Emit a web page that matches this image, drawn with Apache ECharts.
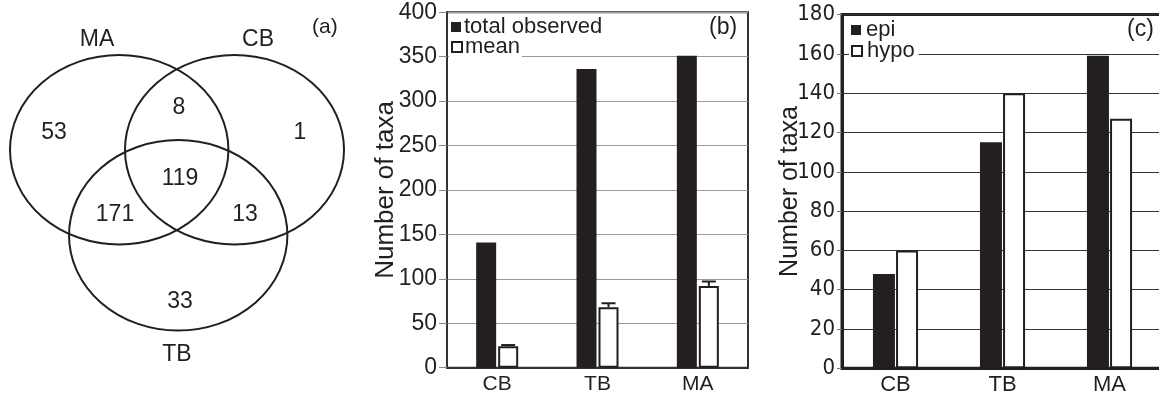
<!DOCTYPE html>
<html>
<head>
<meta charset="utf-8">
<script src="https://cdn.jsdelivr.net/npm/echarts@6/dist/echarts.min.js"></script>
<style>
html,body{margin:0;padding:0;background:#fff;}
#chart{width:1159px;height:395px;}
</style>
</head>
<body>
<div id="chart"></div>
<script>
// ---------------- DATA ----------------
// (a) Venn diagram
const vennSets = ['MA', 'CB', 'TB'];
const vennRegionNames = ['MA only', 'MA∩CB', 'CB only', 'MA∩TB', 'MA∩CB∩TB', 'CB∩TB', 'TB only'];
const vennCounts = [53, 8, 1, 171, 119, 13, 33];
// (b) total observed vs mean
const categories = ['CB', 'TB', 'MA'];
const totalObserved = [141, 336, 351];
const meanTaxa = [24, 68, 92];
const meanError = [1.5, 4.5, 5];
const yTicksB = [0, 50, 100, 150, 200, 250, 300, 350, 400];
// (c) epi vs hypo
const epiTaxa = [48, 115, 159];
const hypoTaxa = [60, 140, 127];
const yTicksC = [0, 20, 40, 60, 80, 100, 120, 140, 160, 180];

// ---------------- LAYOUT (not data) ----------------
const INK = '#231f20';
const FONT = "'Liberation Sans', Arial, Helvetica, sans-serif";
const NARROW = "'Liberation Sans Narrow', 'Arial Narrow', 'DejaVu Sans Condensed', sans-serif";
// ellipse geometry of the Venn panel, in panel pixel units [cx, cy, rx, ry]
const vennEllipseLayout = [[119.2, 149.7, 109.2, 94.7], [234.5, 149.7, 109.5, 94.7], [178.2, 235.3, 109.2, 95.3]];
const vennSetLabelPos = [[97, 40], [258, 40], [177, 355]];
const vennRegionPos = [[54, 133], [179, 108], [300, 133], [115, 215], [180, 179], [245, 215], [180, 302]];

const chart = echarts.init(document.getElementById('chart'), null, {renderer: 'canvas'});

const ellipseData = vennEllipseLayout.map((e, i) => ({name: vennSets[i], value: e}));
const vennTextData = vennSetLabelPos.map((p, i) => ({value: [p[0], p[1]], txt: vennSets[i]}))
  .concat(vennRegionPos.map((p, i) => ({value: [p[0], p[1]], txt: String(vennCounts[i]), name: vennRegionNames[i]})));

function ellipseItem(params, api) {
  const c = api.coord([api.value(0), api.value(1)]);
  const s = api.size([api.value(2), api.value(3)]);
  const rx = Math.abs(s[0]), ry = Math.abs(s[1]);
  const d = `M${c[0] - rx} ${c[1]} A${rx} ${ry} 0 1 0 ${c[0] + rx} ${c[1]} A${rx} ${ry} 0 1 0 ${c[0] - rx} ${c[1]} Z`;
  return {type: 'path', shape: {pathData: d}, style: {fill: 'none', stroke: INK, lineWidth: 2}};
}
function vennTextItem(params, api) {
  const c = api.coord([api.value(0), api.value(1)]);
  return {type: 'text', x: c[0], y: c[1], style: {
    text: vennTextData[params.dataIndex].txt, fill: INK, font: `23px ${FONT}`,
    align: 'center', verticalAlign: 'middle'}};
}
function errorItem(params, api) {
  const cat = api.value(0), m = api.value(1), e = api.value(2);
  const layout = api.barLayout({count: 2, barWidth: 20, barGap: '10%'});
  const base = api.coord([cat, m]);
  const top = api.coord([cat, m + e]);
  const x = base[0] + layout[1].offsetCenter;
  const hw = 7;
  return {type: 'group', children: [
    {type: 'line', shape: {x1: x, y1: base[1], x2: x, y2: top[1]}, style: {stroke: INK, lineWidth: 2}},
    {type: 'line', shape: {x1: x - hw, y1: top[1], x2: x + hw, y2: top[1]}, style: {stroke: INK, lineWidth: 2}}
  ]};
}

const option = {
  animation: false,
  backgroundColor: '#fff',
  textStyle: {fontFamily: FONT, color: INK},
  grid: [
    {left: 0, top: 0, width: 360, height: 395, outerBoundsMode: 'none'},
    {left: 447, top: 12.2, width: 301, height: 355.5, show: true, borderColor: '#333', borderWidth: 2, outerBoundsMode: 'none'},
    {left: 842, top: 14.6, width: 321, height: 353.7, show: true, borderColor: INK, borderWidth: 3, outerBoundsMode: 'none'}
  ],
  xAxis: [
    {gridIndex: 0, type: 'value', min: 0, max: 360, show: false},
    {gridIndex: 1, type: 'category', data: categories,
      axisLine: {lineStyle: {color: '#333', width: 2}}, axisTick: {show: false},
      axisLabel: {fontSize: 21, margin: 6, color: INK, fontFamily: FONT}},
    {gridIndex: 2, type: 'category', data: categories,
      axisLine: {lineStyle: {color: INK, width: 3}}, axisTick: {show: false},
      axisLabel: {fontSize: 22, margin: 6, color: INK, fontFamily: FONT}}
  ],
  yAxis: [
    {gridIndex: 0, type: 'value', min: 0, max: 395, inverse: true, show: false},
    {gridIndex: 1, type: 'value', min: yTicksB[0], max: yTicksB[yTicksB.length - 1], interval: yTicksB[1] - yTicksB[0],
      name: 'Number of taxa', nameLocation: 'middle', nameGap: 48, nameMoveOverlap: false,
      nameTextStyle: {fontSize: 26, color: INK, fontFamily: FONT},
      axisLine: {show: true, lineStyle: {color: '#333', width: 2}},
      axisTick: {show: true, length: 8, lineStyle: {color: '#888', width: 1}},
      axisLabel: {fontSize: 23, margin: 10, color: INK, fontFamily: FONT},
      splitLine: {show: true, lineStyle: {color: '#9a9a9a', width: 1}}},
    {gridIndex: 2, type: 'value', min: yTicksC[0], max: yTicksC[yTicksC.length - 1], interval: yTicksC[1] - yTicksC[0],
      name: 'Number of taxa', nameLocation: 'middle', nameGap: 39, nameMoveOverlap: false,
      nameTextStyle: {fontSize: 25, color: INK, fontFamily: FONT},
      axisLine: {show: true, lineStyle: {color: INK, width: 3}},
      axisTick: {show: true, length: 5, lineStyle: {color: '#777', width: 1}},
      axisLabel: {fontSize: 22, margin: 7, color: INK, fontFamily: NARROW},
      splitLine: {show: true, lineStyle: {color: '#333', width: 1}}}
  ],
  legend: [
    {data: ['total observed'], left: 449, top: 16, orient: 'vertical', padding: [0, 2, 0, 2],
      itemWidth: 10, itemHeight: 10, itemGap: 0, icon: 'rect', selectedMode: false,
      textStyle: {fontSize: 22, color: INK, fontFamily: FONT, padding: [0, 0, 0, -2]}},
    {data: ['mean'], left: 449, top: 36, orient: 'vertical', padding: [0, 2, 2, 2], backgroundColor: '#fff',
      itemWidth: 10, itemHeight: 10, itemGap: 0, icon: 'rect', selectedMode: false,
      textStyle: {fontSize: 22, color: INK, fontFamily: FONT, padding: [0, 0, 0, -2]}},
    {data: ['epi'], left: 849, top: 19, orient: 'vertical', padding: [0, 2, 0, 2],
      itemWidth: 10, itemHeight: 10, itemGap: 0, icon: 'rect', selectedMode: false,
      textStyle: {fontSize: 22, color: INK, fontFamily: FONT}},
    {data: ['hypo'], left: 849, top: 40, orient: 'vertical', padding: [0, 4, 2, 2], backgroundColor: '#fff',
      itemWidth: 10, itemHeight: 10, itemGap: 0, icon: 'rect', selectedMode: false,
      textStyle: {fontSize: 22, color: INK, fontFamily: FONT}}
  ],
  graphic: [
    {type: 'text', left: 312, top: 17, style: {text: '(a)', font: `21px ${FONT}`, fill: INK}},
    {type: 'text', left: 709, top: 16, style: {text: '(b)', font: `23px ${FONT}`, fill: INK}},
    {type: 'text', left: 1127, top: 18, style: {text: '(c)', font: `23px ${FONT}`, fill: INK}}
  ],
  series: [
    {type: 'custom', name: 'venn sets', xAxisIndex: 0, yAxisIndex: 0, renderItem: ellipseItem, data: ellipseData, silent: true},
    {type: 'custom', name: 'venn labels', xAxisIndex: 0, yAxisIndex: 0, renderItem: vennTextItem, data: vennTextData, silent: true},
    {type: 'bar', name: 'total observed', xAxisIndex: 1, yAxisIndex: 1, data: totalObserved,
      barWidth: 20, barGap: '10%', itemStyle: {color: INK}},
    {type: 'bar', name: 'mean', xAxisIndex: 1, yAxisIndex: 1, data: meanTaxa,
      barWidth: 20, barGap: '10%', itemStyle: {color: '#fff', borderColor: INK, borderWidth: 2}},
    {type: 'custom', name: 'mean error', xAxisIndex: 1, yAxisIndex: 1, renderItem: errorItem, z: 5,
      data: categories.map((c, i) => [i, meanTaxa[i], meanError[i]])},
    {type: 'bar', name: 'epi', xAxisIndex: 2, yAxisIndex: 2, data: epiTaxa,
      barWidth: 22, barGap: '5%', itemStyle: {color: INK}},
    {type: 'bar', name: 'hypo', xAxisIndex: 2, yAxisIndex: 2, data: hypoTaxa,
      barWidth: 22, barGap: '5%', itemStyle: {color: '#fff', borderColor: INK, borderWidth: 2}}
  ]
};
chart.setOption(option);
</script>
</body>
</html>
